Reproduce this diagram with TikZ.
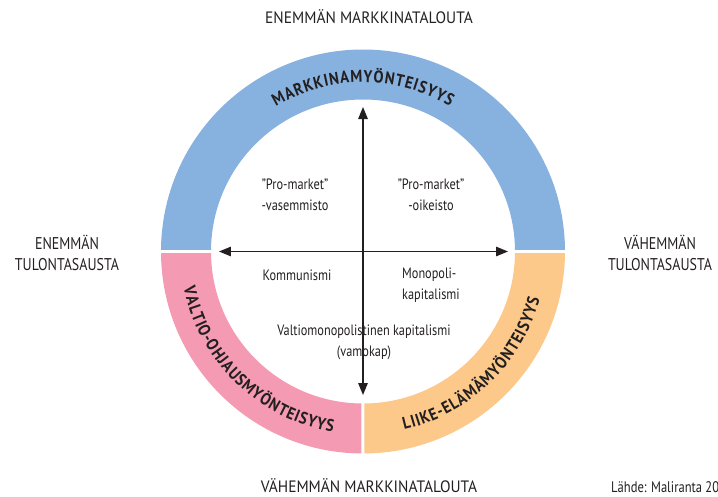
\documentclass[tikz,border=0pt]{standalone}
\usepackage{fontspec}
\usetikzlibrary{arrows.meta,decorations.text}
\newfontfamily\labelfont[FakeStretch=0.82]{PT Sans}
\newfontfamily\capsfont[FakeStretch=0.935]{PT Sans}
\newfontfamily\ringfont[FakeStretch=0.88]{PT Sans}
\newcommand\ringsize{\ringfont\bfseries\fontsize{17}{17}\selectfont}
\definecolor{ringblue}{HTML}{87B1DE}
\definecolor{ringpink}{HTML}{F49AB3}
\definecolor{ringorange}{HTML}{FDC98A}
\definecolor{ink}{HTML}{231F20}
\tikzset{
  axislabel/.style={text=ink, inner sep=0pt,
    font=\capsfont\fontsize{16.5}{21}\selectfont},
  sidelabel/.style={text=ink, align=center, inner sep=0pt,
    font=\labelfont\fontsize{17}{21}\selectfont},
  quadlabel/.style={text=ink, align=center, inner sep=0pt,
    font=\labelfont\fontsize{15}{20.5}\selectfont},
  axisarrow/.style={draw=ink, line width=1.4pt,
    {Triangle[length=12pt,width=9.5pt]}-{Triangle[length=12pt,width=9.5pt]}},
  ringtext/.style={decorate, decoration={text effects along path,
    text={#1}, text align=center,
    text effects/.cd, text along path,
    characters={inner xsep=0.45pt, inner ysep=0pt, anchor=base,
      text=ink, font=\ringsize},
    character widths={inner xsep=0.45pt, font=\ringsize}}},
}
\begin{document}
\begin{tikzpicture}[x=1pt,y=1pt]
  % page frame, origin at the centre of the ring
  \useasboundingbox (-363,-244.5) rectangle (355,251.5);
  \clip (-363,-244.5) rectangle (355,251.5);

  % the three ring segments, separated by narrow white gaps
  \begin{scope}
    \clip (-210,1.75) rectangle (210,210);
    \fill[ringblue, even odd rule] (0,0) circle (202) (0,0) circle (152);
  \end{scope}
  \begin{scope}
    \clip (-210,-1.75) rectangle (-1.5,-210);
    \fill[ringpink, even odd rule] (0,0) circle (202) (0,0) circle (152);
  \end{scope}
  \begin{scope}
    \clip (1.5,-1.75) rectangle (210,-210);
    \fill[ringorange, even odd rule] (0,0) circle (202) (0,0) circle (152);
  \end{scope}

  % ring titles along the arcs
  \path[ringtext={MARKKINAMYÖNTEISYYS}]
    (140:169) arc[start angle=140, end angle=40, radius=169];
  \path[ringtext={VALTIO-OHJAUSMYÖNTEISYYS}]
    (181:183) arc[start angle=181, end angle=271, radius=183];
  \path[ringtext={LIIKE-ELÄMÄMYÖNTEISYYS}]
    (269:183) arc[start angle=269, end angle=359, radius=183];

  % axes
  \coordinate (top) at (0,144.5);
  \coordinate (bottom) at (0,-143.5);
  \coordinate (left) at (-144,0);
  \coordinate (right) at (145,0);
  \draw[axisarrow] (left) -- (right);
  \draw[axisarrow] (top) -- (bottom);

  % axis labels
  \node[axislabel, anchor=base] (moremarket) at (6,227.5) {ENEMMÄN MARKKINATALOUTA};
  \node[axislabel, anchor=base] (lessmarket) at (6,-240.5) {VÄHEMMÄN MARKKINATALOUTA};
  \node[sidelabel] (moreequal) at (-296,-1) {ENEMMÄN\\TULONTASAUSTA};
  \node[sidelabel] (lessequal) at (297,-1) {VÄHEMMÄN\\TULONTASAUSTA};

  % quadrant labels
  \node[quadlabel] (proleft) at (-68,56.5) {”Pro-market”\\-vasemmisto};
  \node[quadlabel] (proright) at (68,56.5) {”Pro-market”\\-oikeisto};
  \node[quadlabel] (communism) at (-66,-23.5) {Kommunismi};
  \node[quadlabel, align=left, anchor=west] (monopoly) at (39,-33.5) {Monopoli-\\kapitalismi};
  \node[quadlabel] (vamokap) at (1,-91) {Valtiomonopolistinen kapitalismi\\(vamokap)};

  % source line
  \node[quadlabel, anchor=base west, font=\labelfont\fontsize{15.3}{20}\selectfont]
    (source) at (248,-240.5) {Lähde: Maliranta 20};
\end{tikzpicture}
\end{document}
